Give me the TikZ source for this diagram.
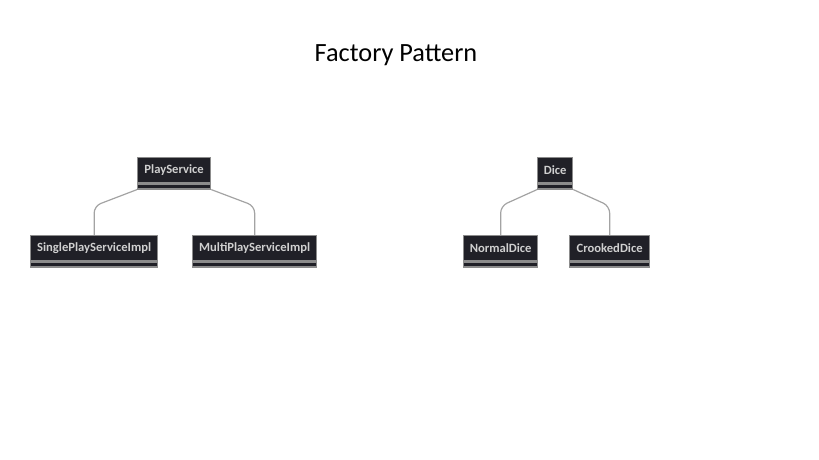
\documentclass[tikz,border=0pt]{standalone}
\usepackage{fontspec}
\setmainfont{Carlito}
\usetikzlibrary{positioning}
\definecolor{boxfill}{HTML}{202027}
\definecolor{boxline}{HTML}{8C8C8C}
\definecolor{boxtext}{HTML}{D0D0D0}
\definecolor{linkgray}{HTML}{A3A3A3}
\tikzset{
  classname/.style={draw=boxline, line width=1.3pt, fill=boxfill, text=boxtext,
    font=\fontsize{12.6}{14}\selectfont\bfseries, inner sep=0pt, minimum height=25pt, anchor=north west},
  classfoot/.style={draw=boxline, line width=1.3pt, fill=boxfill, inner sep=0pt,
    minimum height=5pt, anchor=north west},
  link/.style={draw=linkgray, line width=1.2pt, rounded corners=7pt}
}
% one class box: name, x, y, width, text
\newcommand{\umlclass}[5]{%
  \node[classname, minimum width=#4pt] (#1) at (#2,#3) {#5};
  \node[classfoot, minimum width=#4pt] (#1-f) at (#1.south west) {};
}
\begin{document}
\begin{tikzpicture}[x=1pt,y=-1pt]
  \useasboundingbox (0,0) rectangle (819,460);
  \node (title) at (396,55) {\fontsize{26.3}{30}\selectfont Factory Pattern};

  % play service
  \umlclass{ps}{137}{157}{73}{PlayService}
  \umlclass{sps}{30}{235}{127}{SinglePlayServiceImpl}
  \umlclass{mps}{192}{235}{124}{MultiPlayServiceImpl}
  \coordinate (bend) at (0,206);
  \draw[link] (ps-f.south west) -- (sps.north |- bend) -- (sps.north);
  \draw[link] (ps-f.south east) -- (mps.north |- bend) -- (mps.north);

  % dice
  \umlclass{dc}{537}{157}{35}{Dice}
  \umlclass{nd}{463}{235}{74}{NormalDice}
  \umlclass{cd}{569}{235}{80}{CrookedDice}
  \draw[link] (dc-f.south west) -- (nd.north |- bend) -- (nd.north);
  \draw[link] (dc-f.south east) -- (cd.north |- bend) -- (cd.north);
\end{tikzpicture}
\end{document}
